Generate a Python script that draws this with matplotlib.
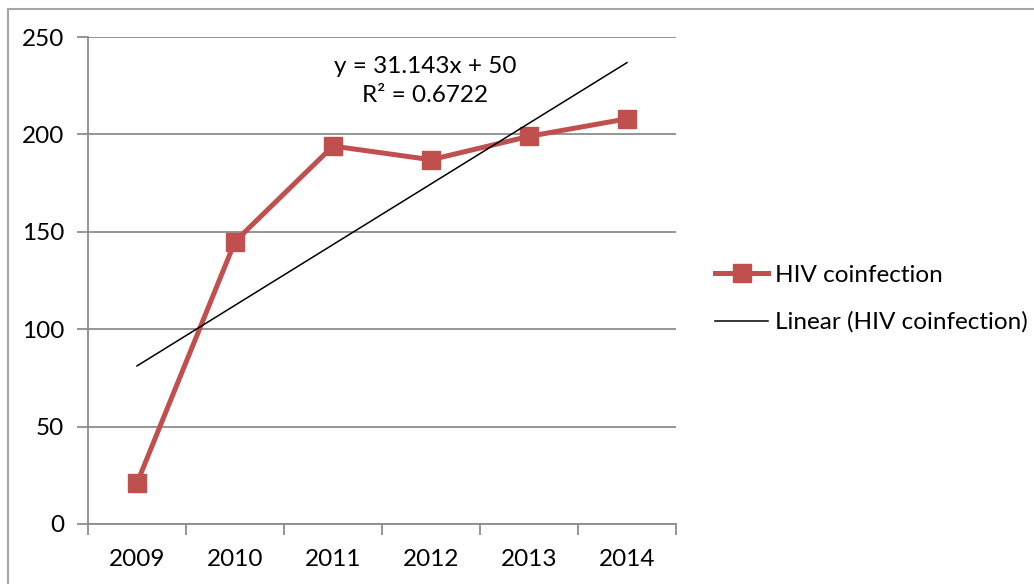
import numpy as np
import matplotlib.pyplot as plt
from matplotlib.patches import Rectangle

years = ['2009', '2010', '2011', '2012', '2013', '2014']
hiv_coinfection = [21, 145, 194, 187, 199, 208]
eq_text = 'y = 31.143x + 50\nR² = 0.6722'
y_ticks = [0, 50, 100, 150, 200, 250]

plt.rcParams['font.family'] = ['Lato', 'DejaVu Sans']

x = np.arange(1, len(years) + 1)
slope, intercept = np.polyfit(x, hiv_coinfection, 1)
trend = slope * x + intercept

fig = plt.figure(figsize=(10.34, 5.84), dpi=100)
ax = fig.add_axes([88 / 1034, 60 / 584, 588 / 1034, 487 / 584])

grid_c = '#8c8c8c'
ax.plot(x, hiv_coinfection, color='#c0504d', lw=3.6, marker='s', ms=13,
        mec='#c0504d', mfc='#c0504d', label='HIV coinfection', zorder=3)
ax.plot(x, trend, color='black', lw=1.1, label='Linear (HIV coinfection)', zorder=4)

ax.set_xlim(0.5, 6.5)
ax.set_ylim(0, 250)
ax.set_yticks(y_ticks)
ax.set_xticks(x)
ax.set_xticklabels(years)
ax.set_xticks(np.arange(0.5, 7.0, 1.0), minor=True)
ax.tick_params(axis='x', which='major', length=0, pad=18, labelsize=17.5)
ax.tick_params(axis='x', which='minor', length=8, width=1.3, color=grid_c)
ax.tick_params(axis='y', length=8, width=1.3, color=grid_c, pad=9, labelsize=17.5)
ax.yaxis.grid(True, color=grid_c, lw=1.3)
ax.set_axisbelow(True)
for s in ['top', 'right']:
    ax.spines[s].set_visible(False)
for s in ['left', 'bottom']:
    ax.spines[s].set_color(grid_c)
    ax.spines[s].set_linewidth(1.3)

ax.text(3.94, 240.5, eq_text, ha='center', va='top', fontsize=17.5,
        linespacing=1.5)

ax.legend(loc='center left', bbox_to_anchor=(715 / 1034, 1 - 299 / 584),
          bbox_transform=fig.transFigure, frameon=False, borderpad=0,
          borderaxespad=0, fontsize=17.5, handlelength=2.2,
          handletextpad=0.25, labelspacing=1.05)

# outer chart border (partially cropped in the original)
fig.patches.append(Rectangle((8 / 1034, -0.1), 1.2, (584 - 9) / 584 + 0.1,
                             transform=fig.transFigure, fill=False,
                             ec='#a6a6a6', lw=1.5))

fig.savefig('out.png', dpi=100)
